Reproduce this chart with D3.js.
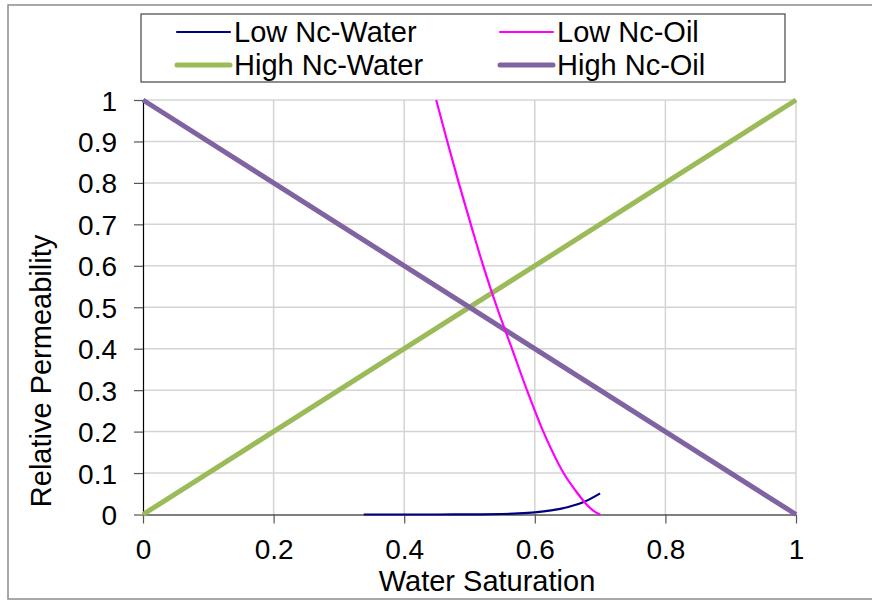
<!DOCTYPE html>
<html>
<head>
<meta charset="utf-8">
<script src="https://cdn.jsdelivr.net/npm/d3@7"></script>
<style>
  body { margin: 0; background: #fff; }
  text { font-family: "Liberation Sans", Arial, sans-serif; fill: #000; }
</style>
</head>
<body>
<script>
// water saturation vs relative permeability
var highWaterSw = [0, 1];
var highWaterKr = [0, 1];
var highOilSw = [0, 1];
var highOilKr = [1, 0];

var lowOilSw = [0.449, 0.466, 0.4835, 0.502, 0.521, 0.542, 0.565, 0.588, 0.613, 0.644, 0.666, 0.680, 0.690, 0.700];
var lowOilKr = [1.0, 0.9, 0.8, 0.7, 0.6, 0.5, 0.4, 0.3, 0.2, 0.1, 0.05, 0.023, 0.009, 0];

var lowWaterSw = [0.338, 0.40, 0.45, 0.50, 0.55, 0.575, 0.60, 0.625, 0.65, 0.675, 0.70];
var lowWaterKr = [0, 0.00001, 0.00004, 0.0002, 0.0012, 0.0026, 0.0052, 0.0099, 0.0176, 0.030, 0.051];

var xTicks = [0, 0.2, 0.4, 0.6, 0.8, 1];
var yTicks = [0, 0.1, 0.2, 0.3, 0.4, 0.5, 0.6, 0.7, 0.8, 0.9, 1];

var series = [
  { name: "Low Nc-Water", sw: lowWaterSw, kr: lowWaterKr, color: "#000080", w: 2.2 },
  { name: "Low Nc-Oil", sw: lowOilSw, kr: lowOilKr, color: "#ff00ff", w: 2.2 },
  { name: "High Nc-Water", sw: highWaterSw, kr: highWaterKr, color: "#9bbb59", w: 5 },
  { name: "High Nc-Oil", sw: highOilSw, kr: highOilKr, color: "#8064a2", w: 5 }
];

var svg = d3.select('body').append('svg')
            .attr("width", 872)
            .attr("height", 601);

// outer frame
svg.append('rect')
   .attr('x', 8).attr('y', 5)
   .attr('width', 900).attr('height', 594)
   .attr('fill', 'none')
   .attr('stroke', '#8c8c8c')
   .attr('stroke-width', 1.5);

var x = d3.scaleLinear().domain([0, 1]).range([143, 796]);
var y = d3.scaleLinear().domain([0, 1]).range([514.5, 100]);

// gridlines
svg.append('g').selectAll('line')
   .data(yTicks.slice(1))
   .enter().append('line')
   .attr('x1', x(0)).attr('x2', x(1))
   .attr('y1', function (d) { return y(d); })
   .attr('y2', function (d) { return y(d); })
   .attr('stroke', '#d4d4d4')
   .attr('stroke-width', 1.5);

svg.append('g').selectAll('line')
   .data(xTicks.slice(1))
   .enter().append('line')
   .attr('x1', function (d) { return x(d); })
   .attr('x2', function (d) { return x(d); })
   .attr('y1', y(0)).attr('y2', y(1))
   .attr('stroke', '#d4d4d4')
   .attr('stroke-width', 1.5);

// axes
var xAxis = d3.axisBottom(x).tickValues(xTicks).tickSize(9).tickPadding(14)
              .tickFormat(function (d) { return d3.format('')(d); });
var yAxis = d3.axisLeft(y).tickValues(yTicks).tickSize(9).tickPadding(17)
              .tickFormat(function (d) { return d3.format('')(d); });

var gx = svg.append('g').attr('transform', 'translate(0,' + y(0) + ')').call(xAxis);
var gy = svg.append('g').attr('transform', 'translate(' + x(0) + ',0)').call(yAxis);

[gx, gy].forEach(function (g) {
  g.select('.domain').attr('stroke', '#000').attr('stroke-width', 1.2);
  g.selectAll('.tick line').attr('stroke', '#555').attr('stroke-width', 1.2);
  g.selectAll('.tick text')
   .style('font-family', '"Liberation Sans", Arial, sans-serif')
   .style('font-size', '28px')
   .attr('fill', '#000');
});
gx.select('.domain').attr('d', 'M' + x(0) + ',0.5H' + x(1));
gy.select('.domain').attr('d', 'M0.5,' + y(0) + 'V' + y(1));
gx.selectAll('.tick text').attr('dy', '0.75em');
gy.selectAll('.tick text').attr('dy', '0.36em');

// axis titles
svg.append('text')
   .attr('x', 487).attr('y', 591)
   .attr('text-anchor', 'middle')
   .style('font-size', '29px')
   .text('Water Saturation');

svg.append('text')
   .attr('transform', 'translate(51,371) rotate(-90)')
   .attr('text-anchor', 'middle')
   .style('font-size', '29px')
   .text('Relative Permeability');

// curves
var line = d3.line()
             .x(function (d) { return x(d[0]); })
             .y(function (d) { return y(d[1]); })
             .curve(d3.curveCatmullRom.alpha(0.5));

var order = [2, 3, 0, 1];
order.forEach(function (i) {
  var s = series[i];
  var pts = s.sw.map(function (v, j) { return [v, s.kr[j]]; });
  svg.append('path')
     .attr('d', line(pts))
     .attr('fill', 'none')
     .attr('stroke', s.color)
     .attr('stroke-width', s.w)
     .attr('stroke-linejoin', 'round');
});

// legend
var legend = svg.append('g');
legend.append('rect')
      .attr('x', 141).attr('y', 14)
      .attr('width', 644).attr('height', 68)
      .attr('fill', '#fff')
      .attr('stroke', '#444')
      .attr('stroke-width', 1.2);

var legendPos = [[177, 32], [500, 32], [177, 65], [500, 65]];
series.forEach(function (s, i) {
  var p = legendPos[i];
  legend.append('line')
        .attr('x1', p[0]).attr('x2', p[0] + 53)
        .attr('y1', p[1]).attr('y2', p[1])
        .attr('stroke', s.color)
        .attr('stroke-width', s.w)
        .attr('stroke-linecap', 'round');
  legend.append('text')
        .attr('x', p[0] + 57).attr('y', p[1] + 10)
        .style('font-size', '29px')
        .text(s.name);
});
</script>
</body>
</html>
